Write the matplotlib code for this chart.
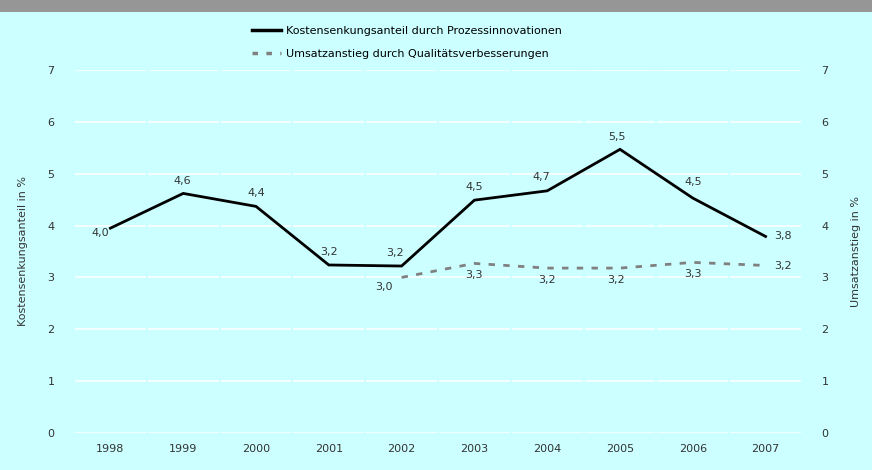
import matplotlib
matplotlib.use("Agg")
import matplotlib.pyplot as plt
from matplotlib.lines import Line2D

years = ["1998", "1999", "2000", "2001", "2002", "2003", "2004", "2005", "2006", "2007"]
kosten = [3.95, 4.62, 4.37, 3.24, 3.22, 4.49, 4.67, 5.47, 4.53, 3.79]
umsatz_years = ["2002", "2003", "2004", "2005", "2006", "2007"]
umsatz = [3.00, 3.27, 3.18, 3.18, 3.29, 3.23]
yticks = [0, 1, 2, 3, 4, 5, 6, 7]

plt.rcParams['font.family'] = ['DejaVu Sans']
bg = "#CCFFFF"
fig = plt.figure(figsize=(8.72, 4.70), dpi=100, facecolor=bg)
# top grey band
fig.patches.append(plt.Rectangle((0, 1 - 12 / 470), 1, 12 / 470, transform=fig.transFigure,
                                 facecolor="#969696", edgecolor="none", zorder=0))

ax = fig.add_axes([74 / 872, 1 - 433 / 470, 728 / 872, 363 / 470])
ax.set_facecolor(bg)
ax.set_xlim(-0.5, len(years) - 0.5)
ax.set_ylim(0, 7)
for s in ax.spines.values():
    s.set_visible(False)

# gridlines, drawn per category with small gaps
for yv in yticks:
    for i in range(len(years)):
        ax.hlines(yv, i - 0.5 + 0.015, i + 0.5 - 0.015, color="white", lw=1.1, zorder=1)

dash = (0, (2.3, 3.0))
gray = "#808080"
xk = list(range(len(years)))
xu = [years.index(y) for y in umsatz_years]
ax.plot(xk, kosten, color="black", lw=2, zorder=3, solid_joinstyle="miter")
ax.plot(xu, umsatz, color=gray, lw=2, ls=dash, zorder=2, dash_capstyle="butt")

fmt = lambda v: f"{v:.1f}".replace(".", ",")
tc = "#333333"
fs = 8
# Kosten labels
k_off = [(-1, 0, "right", "top"), (-1, 5, "center", "bottom"), (0, 6, "center", "bottom"),
         (0, 6, "center", "bottom"), (-5, 6, "center", "bottom"), (0, 6, "center", "bottom"),
         (-4, 6, "center", "bottom"), (-2, 5, "center", "bottom"), (0, 8, "center", "bottom"),
         (6, 0, "left", "center")]
for i, (v, (dx, dy, ha, va)) in enumerate(zip(kosten, k_off)):
    ax.annotate(fmt(v), (xk[i], v), xytext=(dx, dy), textcoords="offset points",
                ha=ha, va=va, fontsize=fs, color=tc, zorder=4)
u_off = [(-13, -3, "center", "top"), (0, -5, "center", "top"), (0, -5, "center", "top"),
         (-3, -5, "center", "top"), (0, -5, "center", "top"), (6, 0, "left", "center")]
for i, (v, (dx, dy, ha, va)) in enumerate(zip(umsatz, u_off)):
    ax.annotate(fmt(v), (xu[i], v), xytext=(dx, dy), textcoords="offset points",
                ha=ha, va=va, fontsize=fs, color=tc, zorder=4)

ax.set_xticks(xk)
ax.set_xticklabels(years, fontsize=fs, color=tc)
ax.set_yticks(yticks)
ax.set_yticklabels([str(t) for t in yticks], fontsize=fs, color=tc)
ax.tick_params(length=0, pad=8)
ax.tick_params(axis="y", pad=14)
ax.set_ylabel("Kostensenkungsanteil in %", fontsize=fs, color=tc, labelpad=14)

ax2 = ax.twinx()
ax2.set_ylim(0, 7)
ax2.set_yticks(yticks)
ax2.set_yticklabels([str(t) for t in yticks], fontsize=fs, color=tc)
ax2.tick_params(length=0, pad=14)
for s in ax2.spines.values():
    s.set_visible(False)
ax2.set_ylabel("Umsatzanstieg in %", fontsize=fs, color=tc, labelpad=16)

handles = [Line2D([], [], color="black", lw=2.5),
           Line2D([], [], color=gray, lw=2.5, ls=(0, (1.6, 2.4)), dash_capstyle="butt")]
labels = ["Kostensenkungsanteil durch Prozessinnovationen",
          "Umsatzanstieg durch Qualitätsverbesserungen"]
fig.legend(handles, labels, loc="upper left", bbox_to_anchor=(242 / 872, 1 - 16 / 470),
           frameon=False, fontsize=fs, handlelength=2.6, handletextpad=0.5,
           labelspacing=1.15, labelcolor="black")

fig.savefig("out.png", dpi=100, facecolor=bg)
